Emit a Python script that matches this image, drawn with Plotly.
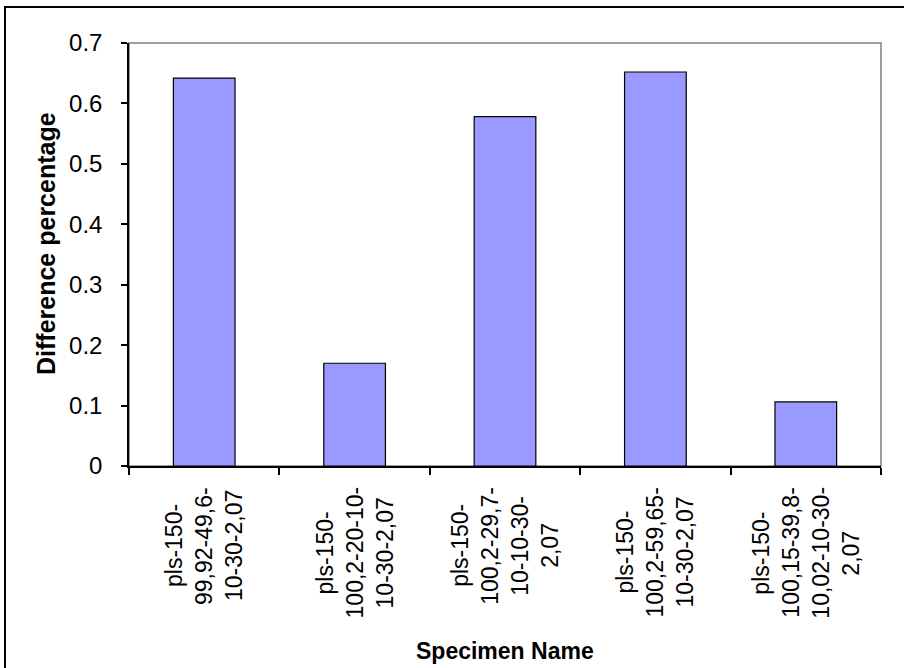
import plotly.graph_objects as go

# Specimen identifiers, one entry per printed line under each bar
specimen_lines = [
    ["pls-150-", "99,92-49,6-", "10-30-2,07"],
    ["pls-150-", "100,2-20-10-", "10-30-2,07"],
    ["pls-150-", "100,2-29,7-", "10-10-30-", "2,07"],
    ["pls-150-", "100,2-59,65-", "10-30-2,07"],
    ["pls-150-", "100,15-39,8-", "10,02-10-30-", "2,07"],
]
specimens = ["".join(lines) for lines in specimen_lines]
difference = [0.642, 0.170, 0.578, 0.652, 0.106]
y_ticks = [0, 0.1, 0.2, 0.3, 0.4, 0.5, 0.6, 0.7]

FONT = "Liberation Sans, Arial, sans-serif"
W, H = 904, 668
ML, MR, MT, MB = 129, 23, 43, 202
pw, ph = W - ML - MR, H - MT - MB
LABEL_SIZE = 23
LINE_GAP = 30      # px between label lines
LABEL_TOP = 21     # px from the axis line to the top of a label block

# advance widths (em) of Arial / Liberation Sans glyphs used in the labels
ADV = {"-": 0.333, ",": 0.278, "p": 0.556, "l": 0.222, "s": 0.5}


def text_px(s, size):
    return sum(ADV.get(c, 0.556) for c in s) * size


def px_x(px):
    return (px - ML) / pw


def px_y(py):
    return (H - MB - py) / ph


fig = go.Figure(
    go.Bar(
        x=specimens,
        y=difference,
        marker=dict(color="#9999FF", line=dict(color="#000000", width=1.2)),
        width=0.41,
    )
)

# rotated category labels: lines centred on a common middle
annotations = []
for cat, lines in zip(specimens, specimen_lines):
    n = len(lines)
    block = max(text_px(t, LABEL_SIZE) for t in lines)
    for i, t in enumerate(lines):
        annotations.append(dict(
            x=cat, xref="x", y=0, yref="paper",
            xshift=(i - (n - 1) / 2) * LINE_GAP,
            yshift=-(LABEL_TOP + block / 2),
            text=t, textangle=-90, showarrow=False,
            xanchor="center", yanchor="middle",
            font=dict(family=FONT, size=LABEL_SIZE, color="#000000"),
        ))

annotations.append(dict(
    x=0.5, xref="paper", y=px_y(651), yref="paper",
    text="<b>Specimen Name</b>", showarrow=False,
    xanchor="center", yanchor="middle",
    font=dict(family=FONT, size=23, color="#000000"),
))
annotations.append(dict(
    x=px_x(46), xref="paper", y=px_y(244), yref="paper",
    text="<b>Difference percentage</b>", textangle=-90, showarrow=False,
    xanchor="center", yanchor="middle",
    font=dict(family=FONT, size=25, color="#000000"),
))

shapes = [
    # plot-area frame (top and right edges in grey)
    dict(type="rect", xref="paper", yref="paper", x0=0, x1=1, y0=0, y1=1,
         line=dict(color="#808080", width=1.5), layer="below"),
    # chart border
    dict(type="rect", xref="paper", yref="paper",
         x0=px_x(5), x1=px_x(960), y0=px_y(730), y1=px_y(7),
         line=dict(color="#000000", width=2)),
]

fig.update_layout(
    width=W, height=H,
    margin=dict(l=ML, r=MR, t=MT, b=MB, pad=0),
    paper_bgcolor="#FFFFFF", plot_bgcolor="#FFFFFF",
    showlegend=False,
    font=dict(family=FONT, size=23, color="#000000"),
    annotations=annotations,
    shapes=shapes,
    xaxis=dict(
        type="category", showticklabels=False, showgrid=False,
        showline=True, linecolor="#000000", linewidth=1.5,
        ticks="outside", tickson="boundaries", ticklen=7,
        tickcolor="#000000", tickwidth=1.5, zeroline=False,
    ),
    yaxis=dict(
        range=[0, 0.7], tickvals=y_ticks,
        ticktext=["0" if v == 0 else f"{v:.1f}" for v in y_ticks],
        showgrid=False, zeroline=False,
        showline=True, linecolor="#000000", linewidth=1.5,
        ticks="outside", ticklen=6, tickcolor="#000000", tickwidth=1.5,
        ticklabelstandoff=14,
        tickfont=dict(family=FONT, size=24, color="#000000"),
    ),
)

fig.write_html("out.html")
